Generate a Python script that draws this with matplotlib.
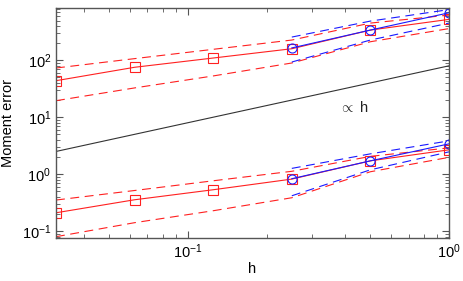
import matplotlib
matplotlib.use("Agg")
import matplotlib.pyplot as plt
from matplotlib.ticker import LogLocator

plt.rcParams['font.family'] = ['Liberation Sans', 'DejaVu Sans']
plt.rcParams['mathtext.fontset'] = 'custom'
plt.rcParams['mathtext.rm'] = 'Liberation Sans'
plt.rcParams['mathtext.it'] = 'Liberation Sans:italic'

# step sizes
h_all = [1/32, 1/16, 1/8, 1/4, 1/2, 1]
h_blue = [1/4, 1/2, 1]

# upper group (red: all h, blue: coarse h)
red_hi_mean = [43.8, 75.4, 109.7, 159.7, 340, 524]
red_hi_up = [73.2, 107, 156, 227, 451, 624]
red_hi_lo = [19.5, 32.7, 53.1, 89.7, 212, 361]
blue_hi_mean = [165, 340, 684]
blue_hi_up = [256, 489, 778]
blue_hi_lo = [93.3, 227, 451]

# lower group
red_lo_mean = [0.209, 0.354, 0.531, 0.817, 1.71, 2.67]
red_lo_up = [0.350, 0.515, 0.763, 1.12, 2.05, 2.89]
red_lo_lo = [0.0794, 0.140, 0.227, 0.384, 1.10, 1.97]
blue_lo_mean = [0.83, 1.71, 3.40]
blue_lo_up = [1.26, 2.27, 3.84]
blue_lo_lo = [0.416, 1.19, 2.46]

# reference slope line
ref_h = [1/32, 1]
ref_val = [2.5, 80]

fig = plt.figure(figsize=(4.64, 2.81), dpi=100)
ax = fig.add_axes([0.1207, 0.153, 0.847, 0.8185])

red = '#ff2020'
blue = '#1a1aff'
dash = (0, (8, 5))
lw = 0.8

ax.plot(ref_h, ref_val, color='#333333', lw=lw)

for mean, up, lo in [(red_hi_mean, red_hi_up, red_hi_lo), (red_lo_mean, red_lo_up, red_lo_lo)]:
    ax.plot(h_all, up, color=red, lw=lw, ls=dash)
    ax.plot(h_all, lo, color=red, lw=lw, ls=dash)
    ax.plot(h_all, mean, color=red, lw=lw, marker='s', ms=6.5, mfc='none', mec=red, mew=0.8)

for mean, up, lo in [(blue_hi_mean, blue_hi_up, blue_hi_lo), (blue_lo_mean, blue_lo_up, blue_lo_lo)]:
    ax.plot(h_blue, up, color=blue, lw=lw, ls=dash)
    ax.plot(h_blue, lo, color=blue, lw=lw, ls=dash)
    ax.plot(h_blue, mean, color=blue, lw=lw, marker='o', ms=6.5, mfc='none', mec=blue, mew=0.8)

ax.set_xscale('log')
ax.set_yscale('log')
ax.set_xlim(1/32, 1)
ax.set_ylim(0.0753, 830)

ax.text(0.43, 14.6, r'$\propto$ h', fontsize=10.5, ha='center', va='center', color='#222222')

ax.set_xlabel('h', fontsize=10.5)
ax.set_ylabel('Moment error', fontsize=10.5)
ax.yaxis.set_label_coords(-0.104, 0.5)
ax.xaxis.set_label_coords(0.5, -0.105)

for sp in ax.spines.values():
    sp.set_color('#555555')
    sp.set_linewidth(1.0)
ax.tick_params(which='both', direction='in', top=True, right=True, colors='#555555',
               labelcolor='black', labelsize=10.5)
ax.tick_params(which='major', length=5)
ax.tick_params(which='minor', length=3)
ax.yaxis.set_minor_locator(LogLocator(base=10, subs=range(2, 10), numticks=20))
ax.xaxis.set_minor_locator(LogLocator(base=10, subs=range(2, 10), numticks=20))

fig.savefig('out.png', dpi=100)
